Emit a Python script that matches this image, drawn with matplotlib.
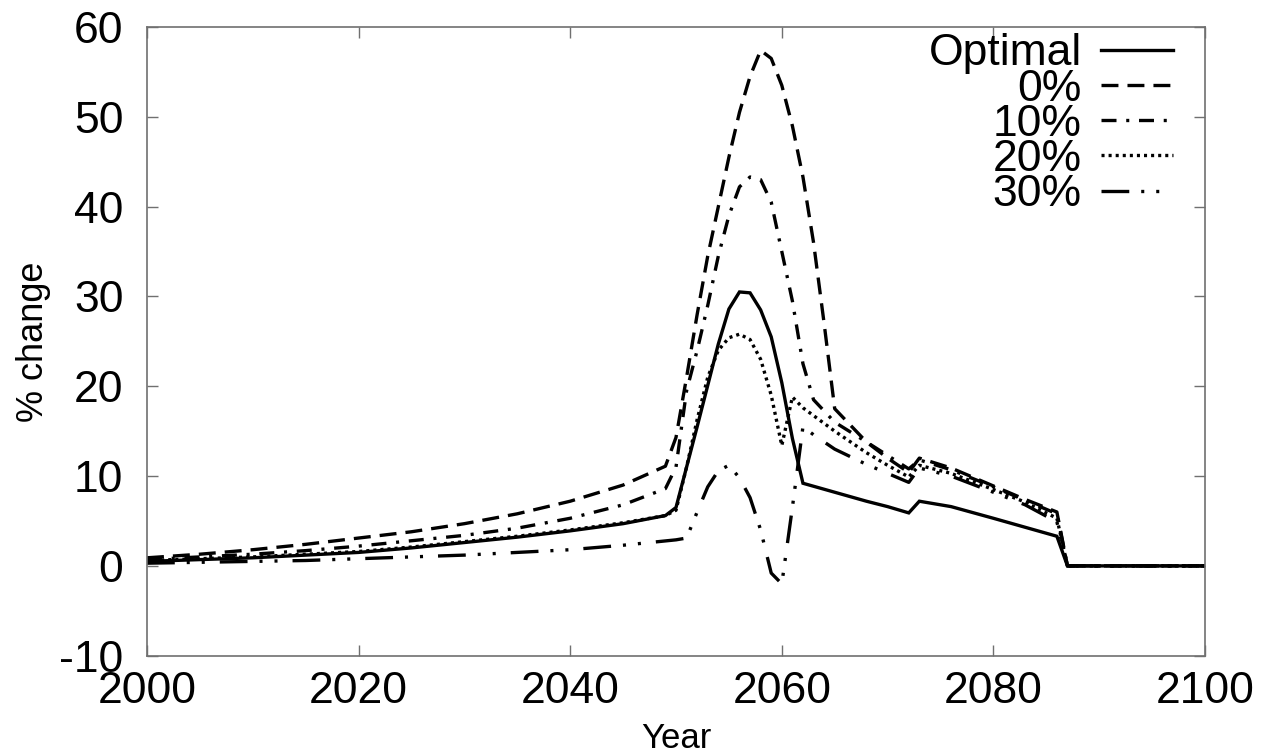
import matplotlib
matplotlib.use("Agg")
import matplotlib.pyplot as plt

plt.rcParams['font.family'] = ['Liberation Sans', 'DejaVu Sans']
plt.rcParams['lines.scale_dashes'] = False
plt.rcParams['axes.unicode_minus'] = False

# ---------------- data ----------------
opt_years = [2000, 2005, 2010, 2015, 2020, 2025, 2030, 2035, 2040, 2045, 2049, 2050,
             2051, 2052, 2053, 2054, 2055, 2056, 2057, 2058, 2059, 2060, 2061, 2062,
             2065, 2068, 2070, 2072, 2073, 2076, 2080, 2083, 2086, 2087, 2100]
opt_vals = [0.5, 0.7, 0.9, 1.2, 1.5, 2.0, 2.6, 3.2, 3.9, 4.7, 5.6, 6.5,
            11.0, 15.5, 20.1, 24.7, 28.6, 30.5, 30.4, 28.5, 25.5, 20.4, 14.2, 9.2,
            8.2, 7.2, 6.6, 5.9, 7.2, 6.6, 5.3, 4.3, 3.3, 0.0, 0.0]

p0_years = [2000, 2005, 2010, 2015, 2020, 2025, 2030, 2035, 2040, 2045, 2049, 2050,
            2051, 2052, 2053, 2054, 2055, 2056, 2057, 2058, 2059, 2060, 2061, 2062,
            2063, 2064, 2065, 2068, 2070, 2072, 2073, 2076, 2080, 2083, 2086, 2087, 2100]
p0_vals = [0.9, 1.3, 1.8, 2.4, 3.1, 3.8, 4.7, 5.8, 7.2, 9.0, 11.1, 14.3,
           21.0, 28.0, 34.5, 40.0, 45.5, 50.5, 54.5, 57.4, 56.5, 53.5, 49.0, 43.3,
           36.0, 27.0, 17.5, 13.8, 12.0, 10.4, 12.0, 10.9, 8.9, 7.4, 6.0, 0.0, 0.0]

p10_years = [2000, 2005, 2010, 2015, 2020, 2025, 2030, 2035, 2040, 2045, 2049, 2050,
             2051, 2052, 2053, 2054, 2055, 2056, 2057, 2058, 2059, 2060, 2061, 2062,
             2063, 2065, 2068, 2070, 2072, 2073, 2076, 2080, 2083, 2086, 2087, 2100]
p10_vals = [0.7, 1.0, 1.3, 1.7, 2.2, 2.8, 3.4, 4.2, 5.3, 6.8, 8.6, 11.0,
            19.5, 24.0, 29.0, 34.5, 39.0, 42.2, 43.3, 43.0, 40.5, 35.0, 29.5, 22.5,
            18.5, 16.0, 13.8, 12.3, 10.8, 11.8, 10.7, 8.8, 7.3, 5.8, 0.0, 0.0]

p20_years = [2000, 2005, 2010, 2015, 2020, 2025, 2030, 2035, 2040, 2045, 2049, 2050,
             2051, 2052, 2053, 2054, 2055, 2056, 2057, 2058, 2059, 2060, 2061, 2062,
             2065, 2068, 2070, 2072, 2073, 2076, 2080, 2083, 2086, 2087, 2100]
p20_vals = [0.6, 0.8, 1.0, 1.3, 1.6, 2.1, 2.7, 3.3, 4.0, 4.8, 5.6, 6.2,
            11.0, 16.3, 21.0, 24.0, 25.4, 25.8, 25.2, 23.0, 19.0, 13.4, 18.8, 17.6,
            15.0, 12.6, 11.2, 9.9, 11.2, 10.3, 8.5, 7.1, 5.3, 0.0, 0.0]

p30_years = [2000, 2005, 2010, 2015, 2020, 2025, 2030, 2035, 2040, 2045, 2050,
             2051, 2052, 2053, 2054, 2055, 2056, 2057, 2058, 2059, 2060, 2061, 2062,
             2063, 2065, 2068, 2070, 2072, 2073, 2076, 2080, 2083, 2086, 2087, 2100]
p30_vals = [0.3, 0.4, 0.5, 0.6, 0.8, 1.0, 1.2, 1.5, 1.8, 2.3, 2.9,
            3.1, 6.0, 8.8, 10.6, 11.2, 9.8, 7.6, 4.0, -0.8, -2.0, 6.5, 15.5,
            14.6, 13.0, 11.3, 10.3, 9.3, 10.9, 10.0, 8.2, 6.8, 4.9, 0.0, 0.0]

labels = ['Optimal', '0%', '10%', '20%', '30%']
x_ticks = [2000, 2020, 2040, 2060, 2080, 2100]
y_ticks = [-10, 0, 10, 20, 30, 40, 50, 60]

# ---------------- styles ----------------
styles = [
    '-',
    (0, (12.2, 6.5)),
    (0, (10.8, 7.0, 2.2, 7.0)),
    (0, (2.2, 2.9)),
    (0, (20.0, 8.6, 2.2, 8.6, 2.2, 10.8)),
]
series = [(opt_years, opt_vals), (p0_years, p0_vals), (p10_years, p10_vals),
          (p20_years, p20_vals), (p30_years, p30_vals)]

fig = plt.figure(figsize=(12.71, 7.55), dpi=100)
ax = fig.add_axes([147 / 1271, 1 - 655.7 / 755, (1205 - 147) / 1271, (655.7 - 27) / 755])

for (xs, ys), ls, lab in zip(series, styles, labels):
    ax.plot(xs, ys, color='black', linestyle=ls, linewidth=2.4, label=lab,
            dash_capstyle='butt', solid_joinstyle='miter')

ax.set_xlim(2000, 2100)
ax.set_ylim(-10, 60)
ax.set_xticks(x_ticks)
ax.set_yticks(y_ticks)
ax.tick_params(direction='in', length=8, width=1, color='#707070',
               top=True, right=True, labelsize=32)
ax.tick_params(axis='y', pad=17)
ax.tick_params(axis='x', pad=11)
for sp in ax.spines.values():
    sp.set_color('#707070')
    sp.set_linewidth(1.2)

ax.set_xlabel('Year', fontsize=25, labelpad=7)
ax.set_ylabel('% change', fontsize=26, labelpad=6)

leg = ax.legend(loc='upper right', bbox_to_anchor=(0.9698, 0.99), frameon=False,
                markerfirst=False, fontsize=32, handlelength=1.62, handletextpad=0.43,
                labelspacing=-0.13, borderpad=0, borderaxespad=0)

fig.savefig('out.png', dpi=100)
